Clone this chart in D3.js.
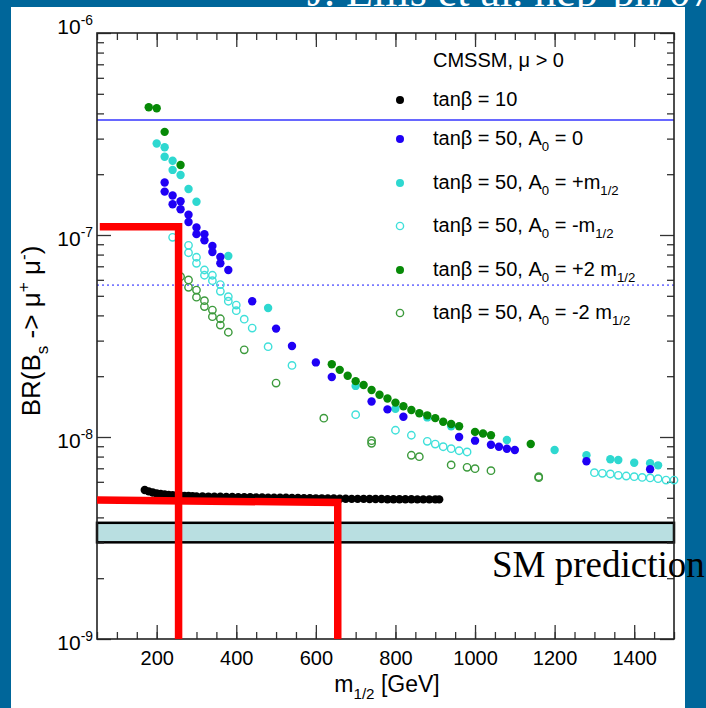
<!DOCTYPE html>
<html>
<head>
<meta charset="utf-8">
<script src="https://cdn.jsdelivr.net/npm/d3@7"></script>
<style>
  body { margin: 0; }
  svg { display: block; }
</style>
</head>
<body>
<div id="chart"></div>
<script>
// BR(Bs -> mu mu) vs m_1/2
const blackPts = [[170,5.47e-9],[180,5.38e-9],[190,5.31e-9],[200,5.26e-9],[210,5.22e-9],[220,5.19e-9],[230,5.17e-9],[240,5.15e-9],[250,5.13e-9],[260,5.12e-9],[270,5.11e-9],[280,5.10e-9],[290,5.09e-9],[300,5.08e-9],[315,5.08e-9],[330,5.07e-9],[345,5.06e-9],[360,5.06e-9],[375,5.05e-9],[390,5.05e-9],[405,5.04e-9],[420,5.04e-9],[435,5.03e-9],[450,5.02e-9],[465,5.02e-9],[480,5.01e-9],[495,5.01e-9],[510,5.00e-9],[525,5.00e-9],[540,4.99e-9],[555,4.99e-9],[570,4.98e-9],[585,4.98e-9],[600,4.97e-9],[615,4.97e-9],[630,4.96e-9],[645,4.96e-9],[660,4.95e-9],[675,4.95e-9],[690,4.94e-9],[705,4.94e-9],[720,4.94e-9],[735,4.93e-9],[750,4.93e-9],[765,4.93e-9],[780,4.92e-9],[795,4.92e-9],[810,4.92e-9],[825,4.92e-9],[840,4.92e-9],[855,4.91e-9],[870,4.91e-9],[885,4.91e-9],[900,4.91e-9],[910,4.91e-9]];

const blueFilled = [[220,1.82e-7],[220,1.64e-7],[240,1.57e-7],[240,1.42e-7],[260,1.47e-7],[260,1.34e-7],[280,1.26e-7],[280,1.16e-7],[300,1.09e-7],[300,1.01e-7],[320,1.01e-7],[320,9.41e-8],[340,8.82e-8],[340,8.23e-8],[360,7.78e-8],[360,7.24e-8],[380,6.71e-8],[440,4.70e-8],[500,3.44e-8],[540,2.82e-8],[600,2.34e-8],[640,1.98e-8],[740,1.50e-8],[780,1.37e-8],[820,1.26e-8],[960,1.00e-8],[1000,9.59e-9],[1040,9.16e-9],[1060,8.95e-9],[1080,8.75e-9],[1100,8.62e-9],[1280,7.58e-9],[1440,6.92e-9]];

const cyanFilled = [[200,2.84e-7],[220,2.72e-7],[220,2.44e-7],[240,2.33e-7],[240,2.10e-7],[260,1.98e-7],[280,1.69e-7],[300,1.46e-7],[380,7.87e-8],[480,4.35e-8],[700,1.79e-8],[800,1.38e-8],[880,1.25e-8],[940,1.13e-8],[1080,9.66e-9],[1200,8.62e-9],[1280,8.12e-9],[1340,7.76e-9],[1360,7.69e-9],[1400,7.46e-9],[1440,7.41e-9],[1460,7.24e-9]];

const cyanOpen = [[240,9.74e-8],[280,8.89e-8],[280,8.17e-8],[300,7.76e-8],[300,7.24e-8],[320,6.71e-8],[320,6.32e-8],[340,6.32e-8],[340,5.94e-8],[360,5.68e-8],[360,5.26e-8],[380,4.95e-8],[380,4.70e-8],[400,4.50e-8],[400,4.22e-8],[420,3.83e-8],[440,3.46e-8],[480,2.80e-8],[540,2.26e-8],[700,1.29e-8],[800,1.08e-8],[840,1.02e-8],[880,9.52e-9],[900,9.23e-9],[920,8.95e-9],[940,8.75e-9],[960,8.55e-9],[980,8.43e-9],[1300,6.66e-9],[1320,6.61e-9],[1340,6.56e-9],[1360,6.46e-9],[1380,6.41e-9],[1400,6.36e-9],[1420,6.31e-9],[1440,6.27e-9],[1460,6.22e-9],[1480,6.12e-9],[1500,6.12e-9]];

const greenFilled = [[180,4.29e-7],[200,4.24e-7],[220,3.24e-7],[260,2.22e-7],[640,2.29e-8],[660,2.15e-8],[680,2.01e-8],[700,1.89e-8],[720,1.81e-8],[740,1.71e-8],[760,1.62e-8],[780,1.55e-8],[800,1.48e-8],[820,1.42e-8],[840,1.36e-8],[860,1.31e-8],[880,1.28e-8],[900,1.24e-8],[920,1.19e-8],[940,1.16e-8],[960,1.13e-8],[1000,1.06e-8],[1020,1.04e-8],[1040,1.02e-8],[1140,9.23e-9]];

const greenOpen = [[260,6.22e-8],[280,5.99e-8],[280,5.51e-8],[300,5.34e-8],[300,4.92e-8],[320,4.73e-8],[320,4.42e-8],[340,4.25e-8],[340,3.94e-8],[360,3.85e-8],[360,3.58e-8],[380,3.30e-8],[420,2.70e-8],[500,1.85e-8],[620,1.24e-8],[740,9.59e-9],[740,9.30e-9],[840,8.12e-9],[860,7.99e-9],[940,7.27e-9],[980,7.08e-9],[1000,6.97e-9],[1040,6.81e-9],[1160,6.29e-9],[1160,6.36e-9]];

// limits drawn on the plot
const cdfLimit = 3.71e-7;
const dottedLimit = 5.65e-8;
const smBand = [3.01e-9, 3.76e-9];
const redUpper = [[57, 1.10e-7], [255, 1.10e-7], [255, 1e-9]];
const redLower = [[50, 4.88e-9], [655, 4.74e-9], [655, 1e-9]];

const xTicks = [200, 400, 600, 800, 1000, 1200, 1400];
const yTicks = [1e-9, 1e-8, 1e-7, 1e-6];
const yTickLabels = ["-9", "-8", "-7", "-6"];

const legendRows = [
  { fill: "#000000", stroke: "none", parts: [["tanβ = 10", ""]] },
  { fill: "#1f00f5", stroke: "none", parts: [["tanβ = 50, A", ""], ["0", "sub"], [" = 0", ""]] },
  { fill: "#2ed8d0", stroke: "none", parts: [["tanβ = 50, A", ""], ["0", "sub"], [" = +m", ""], ["1/2", "sub"]] },
  { fill: "none", stroke: "#3fe0da", parts: [["tanβ = 50, A", ""], ["0", "sub"], [" = -m", ""], ["1/2", "sub"]] },
  { fill: "#078a07", stroke: "none", parts: [["tanβ = 50, A", ""], ["0", "sub"], [" = +2 m", ""], ["1/2", "sub"]] },
  { fill: "none", stroke: "#3c9a3c", parts: [["tanβ = 50, A", ""], ["0", "sub"], [" = -2 m", ""], ["1/2", "sub"]] }
];

let width = 706;
let height = 708;
const font = "'Liberation Sans', Arial, sans-serif";

const svg = d3.select("#chart")
  .append("svg")
  .attr("width", width)
  .attr("height", height);

svg.append("rect")
  .attr("width", width)
  .attr("height", height)
  .attr("fill", "#00669a");

// header text, mostly hidden behind the white panel
svg.append("text")
  .attr("x", 307)
  .attr("y", 6)
  .attr("fill", "white")
  .attr("font-family", "'Liberation Serif', serif")
  .attr("font-size", 44)
  .text("J. Ellis et al. hep-ph/0703");

svg.append("rect")
  .attr("x", 11)
  .attr("y", 7)
  .attr("width", 674)
  .attr("height", 701)
  .attr("fill", "white");

const x = d3.scaleLinear().domain([50, 1500]).range([97, 674]);
const y = d3.scaleLog().domain([1e-9, 1e-6]).range([639, 33]);

// text with sub/superscripts
function rich(sel, parts, size) {
  let shift = 0;
  parts.forEach(([t, k]) => {
    let target = k === "sub" ? size * 0.32 : k === "sup" ? -size * 0.42 : 0;
    sel.append("tspan")
      .attr("dy", target - shift)
      .attr("font-size", k ? size * 0.66 : size)
      .text(t);
    shift = target;
  });
}

// reference lines
svg.append("line")
  .attr("x1", x(50)).attr("x2", x(1500))
  .attr("y1", y(cdfLimit)).attr("y2", y(cdfLimit))
  .attr("stroke", "#3535ff")
  .attr("stroke-width", 1.3);

svg.append("line")
  .attr("x1", x(50)).attr("x2", x(1500))
  .attr("y1", y(dottedLimit)).attr("y2", y(dottedLimit))
  .attr("stroke", "#7a7aff")
  .attr("stroke-width", 1.6)
  .attr("stroke-dasharray", "2,3");

svg.append("rect")
  .attr("x", x(50))
  .attr("y", y(smBand[1]))
  .attr("width", x(1500) - x(50))
  .attr("height", y(smBand[0]) - y(smBand[1]))
  .attr("fill", "#b9dfe1")
  .attr("stroke", "black")
  .attr("stroke-width", 2.5);

// axes, ticks pointing inward
const axes = svg.append("g")
  .attr("font-family", font);

const xMinor = d3.range(50, 1501, 50);
const yMinor = y.ticks().filter(v => !yTicks.some(t => Math.abs(t - v) / t < 1e-6));

function styleAxis(g) {
  g.select(".domain").remove();
  g.selectAll(".tick line").attr("stroke", "#333").attr("stroke-width", 1.3);
}

axes.append("g")
  .attr("transform", "translate(0,639)")
  .call(d3.axisBottom(x).tickValues(xTicks).tickSize(-14).tickPadding(12).tickFormat(d3.format("d")))
  .call(styleAxis)
  .selectAll("text")
  .attr("font-size", 20)
  .attr("fill", "black")
  .attr("font-family", font);

axes.append("g")
  .attr("transform", "translate(0,639)")
  .call(d3.axisBottom(x).tickValues(xMinor).tickSize(-7).tickFormat(""))
  .call(styleAxis);

axes.append("g")
  .attr("transform", "translate(0,33)")
  .call(d3.axisTop(x).tickValues(xTicks).tickSize(-14).tickFormat(""))
  .call(styleAxis);

axes.append("g")
  .attr("transform", "translate(0,33)")
  .call(d3.axisTop(x).tickValues(xMinor).tickSize(-7).tickFormat(""))
  .call(styleAxis);

axes.append("g")
  .attr("transform", "translate(97,0)")
  .call(d3.axisLeft(y).tickValues(yTicks).tickSize(-14).tickFormat(""))
  .call(styleAxis);

axes.append("g")
  .attr("transform", "translate(97,0)")
  .call(d3.axisLeft(y).tickValues(yMinor).tickSize(-7).tickFormat(""))
  .call(styleAxis);

axes.append("g")
  .attr("transform", "translate(674,0)")
  .call(d3.axisRight(y).tickValues(yTicks).tickSize(-14).tickFormat(""))
  .call(styleAxis);

axes.append("g")
  .attr("transform", "translate(674,0)")
  .call(d3.axisRight(y).tickValues(yMinor).tickSize(-7).tickFormat(""))
  .call(styleAxis);

// y tick labels 10^n
yTicks.forEach((v, i) => {
  let t = axes.append("text")
    .attr("x", 93)
    .attr("y", y(v) + (v === 1e-6 ? 1 : 11))
    .attr("text-anchor", "end")
    .attr("fill", "black");
  rich(t, [["10", ""], [yTickLabels[i], "sup"]], 21);
});

// frame
svg.append("rect")
  .attr("x", 97)
  .attr("y", 33)
  .attr("width", 577)
  .attr("height", 606)
  .attr("fill", "none")
  .attr("stroke", "#222")
  .attr("stroke-width", 1.6);

// axis titles
const xTitle = svg.append("text")
  .attr("x", 387)
  .attr("y", 692)
  .attr("text-anchor", "middle")
  .attr("font-family", font);
rich(xTitle, [["m", ""], ["1/2", "sub"], [" [GeV]", ""]], 23);

const yTitle = svg.append("text")
  .attr("transform", "translate(40,331) rotate(-90)")
  .attr("text-anchor", "middle")
  .attr("font-family", font);
rich(yTitle, [["BR(B", ""], ["s", "sub"], [" -> ", ""], ["μ", ""], ["+", "sup"], [" μ", ""], ["-", "sup"], [")", ""]], 26);

// data points
function dots(data, fill, stroke, r) {
  svg.append("g")
    .selectAll("circle")
    .data(data)
    .join("circle")
    .attr("cx", d => x(d[0]))
    .attr("cy", d => y(d[1]))
    .attr("r", r)
    .attr("fill", fill)
    .attr("stroke", stroke)
    .attr("stroke-width", stroke === "none" ? 0 : 1.4);
}

dots(blackPts, "#000000", "none", 4.2);
dots(cyanFilled, "#2ed8d0", "none", 4.2);
dots(blueFilled, "#1f00f5", "none", 4.2);
dots(greenFilled, "#078a07", "none", 4.2);
dots(cyanOpen, "none", "#3fe0da", 3.7);
dots(greenOpen, "none", "#3c9a3c", 3.7);

// red annotation lines
const redLine = d3.line().x(d => x(d[0])).y(d => y(d[1]));
[redUpper, redLower].forEach(pts => {
  svg.append("path")
    .attr("d", redLine(pts))
    .attr("fill", "none")
    .attr("stroke", "#ff0000")
    .attr("stroke-width", 7.5);
});

// legend
const legend = svg.append("g")
  .attr("font-family", font)
  .attr("fill", "black");

const lt = legend.append("text")
  .attr("x", 433)
  .attr("y", 67);
rich(lt, [["CMSSM, μ > 0", ""]], 20);

const rowY = [100, 139, 183, 226, 270, 313];
legendRows.forEach((row, i) => {
  legend.append("circle")
    .attr("cx", 400)
    .attr("cy", rowY[i])
    .attr("r", row.fill === "none" ? 3.6 : 4)
    .attr("fill", row.fill)
    .attr("stroke", row.stroke)
    .attr("stroke-width", row.fill === "none" ? 1.4 : 0);
  let t = legend.append("text")
    .attr("x", 433)
    .attr("y", rowY[i] + 6);
  rich(t, row.parts, 20);
});

// SM label, runs past the white panel
svg.append("text")
  .attr("x", 492)
  .attr("y", 577)
  .attr("font-family", "'Liberation Serif', 'Times New Roman', serif")
  .attr("font-size", 37)
  .attr("fill", "black")
  .text("SM prediction");
</script>
</body>
</html>
